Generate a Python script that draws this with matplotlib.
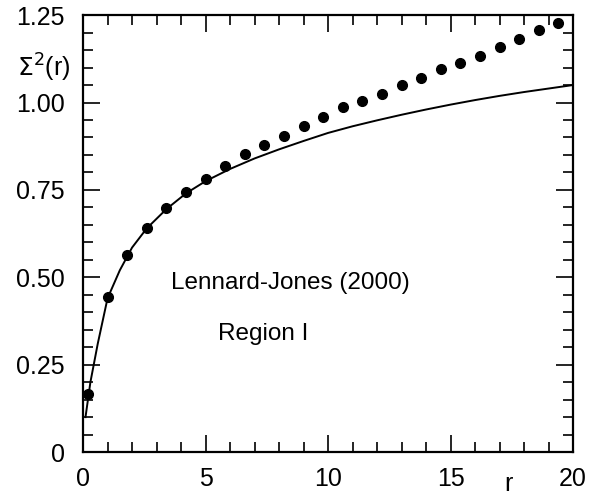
import matplotlib
matplotlib.use("Agg")
import matplotlib.pyplot as plt
from matplotlib.ticker import MultipleLocator

plt.rcParams["font.family"] = ["Liberation Sans", "DejaVu Sans"]

# simulation points
r_pts = [0.2, 1.0, 1.8, 2.6, 3.4, 4.2, 5.0, 5.8, 6.6, 7.4, 8.2, 9.0, 9.8,
         10.6, 11.4, 12.2, 13.0, 13.8, 14.6, 15.4, 16.2, 17.0, 17.8, 18.6, 19.4]
s2_pts = [0.165, 0.443, 0.563, 0.640, 0.698, 0.744, 0.781, 0.818, 0.852, 0.878,
          0.904, 0.932, 0.958, 0.987, 1.004, 1.024, 1.050, 1.070, 1.096, 1.113,
          1.133, 1.158, 1.181, 1.207, 1.227]

# theory curve
r_line = [0.1, 0.3, 0.6, 1.0, 1.5, 2.0, 2.6, 3.4, 4.2, 5.0, 6.0, 7.0, 8.0,
          9.0, 10, 11, 12, 13, 14, 15, 16, 17, 18, 19, 20]
s2_line = [0.10, 0.20, 0.31, 0.44, 0.52, 0.585, 0.64, 0.695, 0.74, 0.775, 0.81,
           0.84, 0.866, 0.89, 0.913, 0.932, 0.949, 0.965, 0.98, 0.994, 1.007,
           1.019, 1.03, 1.04, 1.05]

xticks = [0, 5, 10, 15, 20]
yticks = [0, 0.25, 0.50, 0.75, 1.00, 1.25]
ylabels = ["0", "0.25", "0.50", "0.75", "1.00", "1.25"]

fig = plt.figure(figsize=(5.89, 5.04), dpi=100)
ax = fig.add_axes([0.141, 0.103, 0.832, 0.867])

ax.plot(r_line, s2_line, "k-", linewidth=1.4)
ax.plot(r_pts, s2_pts, "ko", markersize=7, linestyle="none", clip_on=False)

ax.set_xlim(0, 20)
ax.set_ylim(0, 1.25)
ax.set_xticks(xticks)
ax.set_xticklabels([str(t) for t in xticks])
ax.set_yticks(yticks)
ax.set_yticklabels(ylabels)
ax.xaxis.set_minor_locator(MultipleLocator(1))
ax.yaxis.set_minor_locator(MultipleLocator(0.05))
ax.tick_params(which="both", direction="in", top=True, right=True,
               width=1.2, labelsize=18)
ax.tick_params(which="major", length=12)
ax.tick_params(which="minor", length=7)
ax.tick_params(axis="x", which="major", pad=11)
ax.tick_params(axis="y", which="major", pad=13)
for sp in ax.spines.values():
    sp.set_linewidth(1.6)

ax.text(3.6, 0.483, "Lennard-Jones (2000)", fontsize=17.5, va="center")
ax.text(5.5, 0.337, "Region I", fontsize=17.5, va="center")
ax.text(-0.5, 1.098, r"$\Sigma^2$(r)", fontsize=18, ha="right", va="center",
        clip_on=False)
ax.text(17.35, -0.09, "r", fontsize=18, ha="center", va="center", clip_on=False)

fig.savefig("out.png", dpi=100)
